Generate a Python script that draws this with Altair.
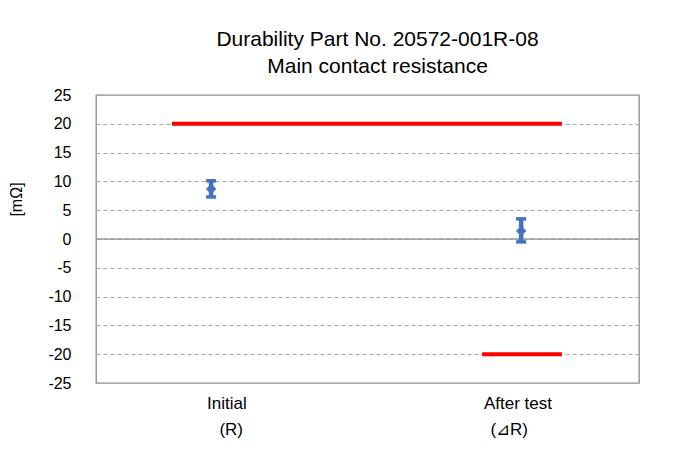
import altair as alt
import pandas as pd

categories = ["Initial", "After test"]
units = ["(R)", "(⊿R)"]
x_pos = [0.212, 0.783]
label_x = [0.241, 0.777]
unit_x = [0.249, 0.761]
means = [8.7, 1.4]
upper = [10.1, 3.5]
lower = [7.3, -0.5]

limit_values = [20, -20]
limit_start = [0.14, 0.711]
limit_end = [0.858, 0.858]

y_ticks = list(range(-25, 30, 5))

pts = pd.DataFrame({"x": x_pos, "mean": means, "hi": upper, "lo": lower})
labs = pd.DataFrame({"lx": label_x, "ux": unit_x, "cat": categories, "unit": units, "y": [-25, -25]})
lims = pd.DataFrame({"v": limit_values, "x1": limit_start, "x2": limit_end})
zero = pd.DataFrame({"v": [0]})

FONT = "Liberation Sans, Arial"
BLUE = "#4472C4"

xs = alt.Scale(domain=[0, 1])
ys = alt.Scale(domain=[-25, 25], nice=False)

yax = alt.Axis(values=y_ticks, title="[mΩ]", titleX=-72, titleY=104, labelExpr="'' + datum.value")

base = alt.Chart(pts)

zero_rule = alt.Chart(zero).mark_rule(color="#9a9a9a", strokeWidth=1.5).encode(
    y=alt.Y("v:Q", scale=ys, axis=yax))

limit_rules = alt.Chart(lims).mark_rule(color="#FF0000", strokeWidth=4).encode(
    x=alt.X("x1:Q", scale=xs, axis=None), x2="x2:Q", y=alt.Y("v:Q", scale=ys, axis=yax))

err = base.mark_rule(color=BLUE, strokeWidth=4.5).encode(
    x=alt.X("x:Q", scale=xs, axis=None), y=alt.Y("lo:Q", scale=ys, axis=yax), y2="hi:Q")
cap_hi = base.mark_tick(color=BLUE, orient="horizontal", size=10, thickness=3.5, opacity=1).encode(
    x=alt.X("x:Q", scale=xs, axis=None), y=alt.Y("hi:Q", scale=ys, axis=yax))
cap_lo = base.mark_tick(color=BLUE, orient="horizontal", size=10, thickness=3.5, opacity=1).encode(
    x=alt.X("x:Q", scale=xs, axis=None), y=alt.Y("lo:Q", scale=ys, axis=yax))
dots = base.mark_point(shape="diamond", filled=True, color=BLUE, size=110, opacity=1).encode(
    x=alt.X("x:Q", scale=xs, axis=None), y=alt.Y("mean:Q", scale=ys, axis=yax))

cat_text = alt.Chart(labs).mark_text(font=FONT, fontSize=17, color="#000", dy=21, baseline="middle").encode(
    x=alt.X("lx:Q", scale=xs, axis=None), y=alt.Y("y:Q", scale=ys, axis=yax), text="cat:N")
unit_text = alt.Chart(labs).mark_text(font=FONT, fontSize=17, color="#000", dy=47, baseline="middle").encode(
    x=alt.X("ux:Q", scale=xs, axis=None), y=alt.Y("y:Q", scale=ys, axis=yax), text="unit:N")

chart = alt.layer(zero_rule, limit_rules, err, cap_hi, cap_lo, dots, cat_text, unit_text).properties(
    width=543, height=288,
    title=alt.TitleParams(["Durability Part No. 20572-001R-08", "Main contact resistance"],
                          font=FONT, fontSize=21, fontWeight="normal",
                          color="#000", lineHeight=27, offset=10, anchor="middle", dx=10),
    padding={"left": 0, "top": 21, "right": 5, "bottom": 5},
).configure(background="white").configure_view(stroke="#8c8c8c", strokeWidth=1.3).configure_axisY(
    titleFont=FONT, titleFontSize=16, titleFontWeight="normal", titleColor="#000",
    labelFont=FONT, labelFontSize=16, labelColor="#000", labelPadding=25,
    labelOverlap=False, labelFlush=False, ticks=False, domain=False,
    grid=True, gridDash=[4, 3], gridColor="#a6a6a6", gridWidth=1,
)

chart.save("out.html", embed_options={"renderer": "svg", "actions": False})
